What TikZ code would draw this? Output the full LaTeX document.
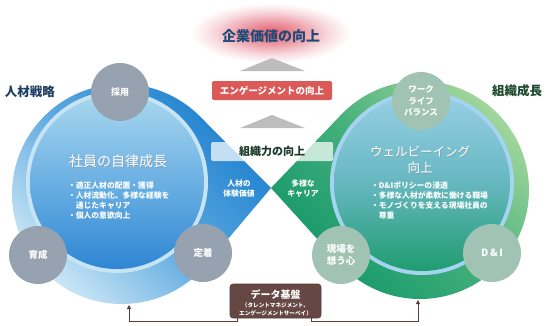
\documentclass[tikz,border=0pt]{standalone}
\usepackage{fontspec}
\setmainfont{Noto Sans CJK JP}
\usetikzlibrary{calc,arrows.meta}
\definecolor{glowA}{HTML}{E05A6A}
\definecolor{glowB}{HTML}{EC98A2}
\definecolor{glowC}{HTML}{F8DADE}
\definecolor{bLa}{HTML}{1C7FCE}
\definecolor{bLb}{HTML}{5DA9E0}
\definecolor{bLc}{HTML}{D6EDF8}
\definecolor{gRa}{HTML}{A9D99F}
\definecolor{gRb}{HTML}{45B07A}
\definecolor{gRc}{HTML}{11966A}
\definecolor{dLa}{HTML}{A9D7EE}
\definecolor{dLb}{HTML}{6BB0E3}
\definecolor{dLc}{HTML}{2F86D4}
\definecolor{dRa}{HTML}{98CFE6}
\definecolor{dRb}{HTML}{66B7C0}
\definecolor{dRc}{HTML}{1F9C70}
\definecolor{rimL}{HTML}{C6E4F4}
\definecolor{rimR}{HTML}{A4D4F0}
\definecolor{grayc}{HTML}{96A2AF}
\definecolor{sagec}{HTML}{A1C3B3}
\definecolor{tric}{HTML}{BDBDBD}
\definecolor{redbox}{HTML}{DB5A57}
\definecolor{navyt}{HTML}{1E4A78}
\definecolor{navys}{HTML}{1F3E63}
\definecolor{greent}{HTML}{1F4A2E}
\definecolor{darkt}{HTML}{1B3A2C}
\definecolor{brownbox}{HTML}{654743}
\definecolor{brownd}{HTML}{5A3B36}
\pgfdeclareradialshading{glowshade}{\pgfpoint{0bp}{0bp}}{color(0bp)=(glowA); color(9bp)=(glowB); color(18bp)=(glowC); color(25bp)=(white); color(50bp)=(white)}
\begin{document}
\begin{tikzpicture}[x=1pt,y=-1pt,
  every node/.style={inner sep=0pt, outer sep=0pt},
  smallc/.style={circle, minimum size=58pt, text=white, align=center},
  graycirc/.style={smallc, fill=grayc},
  sagecirc/.style={smallc, fill=sagec},
  wtext/.style={text=white, align=center},
  bullets/.style={anchor=north west, align=left, text=white, font=\bfseries\fontsize{7.8}{9.8}\selectfont},
  conn/.style={draw=brownd, line width=0.8pt, -{Triangle[width=4pt,length=4pt]}}
]
\useasboundingbox (0,0) rectangle (548,325);

% glow behind top title
\shade[shading=glowshade] (271,33) ellipse[x radius=80, y radius=30];

% triangles
\fill[tric] (240,71) -- (272,58) -- (305,71) -- cycle;
\fill[tric] (240,128) -- (272,115) -- (305,128) -- cycle;

% main loops
\coordinate (LC) at (122,194);
\coordinate (RC) at (420,190);
\coordinate (tip) at (271,188);
\shade[top color=bLa, bottom color=bLc, middle color=bLb, shading angle=-45]
  (tip) -- ($(LC)+(40.16:110)$) arc[start angle=40.16, end angle=315.24, radius=110] -- cycle;
\shade[top color=gRa, bottom color=gRc, middle color=gRb, shading angle=-45]
  (tip) -- ($(RC)+(223.75:109)$) arc[start angle=223.75, end angle=497.79, radius=109] -- cycle;

% inner discs
\fill[rimL] (117,182) circle[radius=91];
\shade[top color=dLa, bottom color=dLc, middle color=dLb] (117,182) circle[radius=87];
\fill[rimR] (422,183) circle[radius=92];
\shade[top color=dRa, bottom color=dRc, middle color=dRb] (422,183) circle[radius=88];

% small circles
\node[graycirc, font=\bfseries\fontsize{9}{11}\selectfont] (saiyo) at (120,92) {採用};
\node[graycirc, font=\bfseries\fontsize{9.5}{11}\selectfont] (ikusei) at (38,255) {育成};
\node[graycirc, font=\bfseries\fontsize{9.5}{11}\selectfont] (teichaku) at (203,253) {定着};
\node[sagecirc, font=\bfseries\fontsize{8.5}{11.5}\selectfont] (wlb) at (421,101) {ワーク\\ライフ\\バランス};
\node[sagecirc, font=\bfseries\fontsize{9.5}{12}\selectfont] (genba) at (341,255) {現場を\\想う心};
\node[sagecirc, font=\bfseries\fontsize{10}{12}\selectfont] (dni) at (492,253) {D\,\&\,I};

% middle labels
\node[text=navyt, font=\bfseries\fontsize{14}{16}\selectfont] (kigyo) at (271,36) {企業価値の向上};
\node[fill=redbox, rounded corners=2pt, minimum width=120pt, minimum height=19pt, text=white,
      font=\bfseries\fontsize{9.5}{11}\selectfont] (eng) at (272,90.5) {エンゲージメントの向上};
\node[fill=white, fill opacity=0.72, text opacity=1, rounded corners=2pt, minimum width=122pt,
      minimum height=19pt, text=darkt, font=\bfseries\fontsize{11}{13}\selectfont] (soshiki) at (272,151.5) {組織力の向上};

% side titles
\node[text=navys, font=\bfseries\fontsize{12.5}{14}\selectfont] (jinzai) at (30,92) {人材戦略};
\node[text=greent, font=\bfseries\fontsize{12.5}{14}\selectfont] (seicho) at (517,91) {組織成長};

% kite labels
\node[wtext, font=\bfseries\fontsize{7.8}{10}\selectfont] (taiken) at (239,189) {人材の\\体験価値};
\node[wtext, font=\bfseries\fontsize{7.8}{10}\selectfont] (career) at (303,189) {多様な\\キャリア};

% disc texts
\node[text=black!45, opacity=0.5, font=\fontsize{14}{16}\selectfont] (ltitles) at (118.8,161.8) {社員の自律成長};
\node[text=white, font=\fontsize{14}{16}\selectfont] (ltitle) at (118,161) {社員の自律成長};
\node[bullets] (lbul) at (68,182) {・適正人材の配置・獲得\\・人材流動化、多様な経験を\\\hspace{7.8pt}通じたキャリア\\・個人の意欲向上};
\node[text=black!45, opacity=0.5, align=center, font=\fontsize{12.5}{16}\selectfont] (rtitles) at (420.8,160.8) {ウェルビーイング\\向上};
\node[text=white, align=center, font=\fontsize{12.5}{16}\selectfont] (rtitle) at (420,160) {ウェルビーイング\\向上};
\node[bullets, font=\bfseries\fontsize{7.8}{10}\selectfont] (rbul) at (371,182) {・D\&Iポリシーの浸透\\・多様な人材が柔軟に働ける職場\\・モノづくりを支える現場社員の\\\hspace{7.8pt}尊重};

% data box
\node[fill=brownbox, draw=brownd, line width=0.6pt, rounded corners=3pt, minimum width=91pt, minimum height=34pt] (data) at (275.5,301) {};
\node[text=white, font=\bfseries\fontsize{10}{12}\selectfont] (datat) at (275.5,295) {データ基盤};
\node[text=white, font=\bfseries\fontsize{5.6}{7}\selectfont] (datas1) at (275.5,305.5) {（タレントマネジメント、};
\node[text=white, font=\bfseries\fontsize{5.6}{7}\selectfont] (datas2) at (275.5,313.5) {エンゲージメントサーベイ）};

% connectors
\coordinate (la) at (129,321.5);
\coordinate (lt) at (129,305);
\coordinate (ra) at (418,321.5);
\coordinate (rt) at (418,300);
\draw[conn] ([xshift=7pt]data.south west) |- (la) -- (lt);
\draw[conn] ([xshift=-10pt]data.south east) |- (ra) -- (rt);
\end{tikzpicture}
\end{document}
